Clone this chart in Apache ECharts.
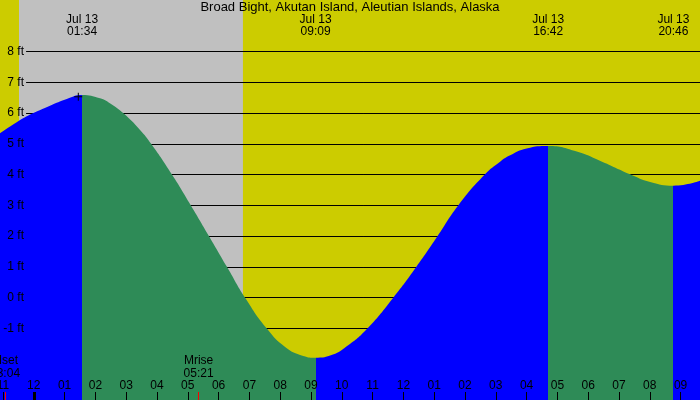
<!DOCTYPE html>
<html>
<head>
<meta charset="utf-8">
<script src="https://cdn.jsdelivr.net/npm/echarts@6/dist/echarts.min.js"></script>
<style>
html, body { margin: 0; padding: 0; background: #CCCC00; }
#echart { width: 700px; height: 400px; }
</style>
</head>
<body>
<div id="echart"></div>
<script>
var titleText = 'Broad Bight, Akutan Island, Aleutian Islands, Alaska';
var dateLabel = 'Jul 13';

// tide curve: hours from midnight Jul 13, height in ft
var tideHours = [-1.097, -0.555, -0.03, 0.526, 1.07, 1.567, 2.15, 2.47, 2.91, 3.45, 3.81, 4.48, 5.10, 5.69, 6.28, 6.86, 7.58, 8.16, 8.75, 9.15, 9.62, 10.16, 10.83, 11.67, 12.41, 13.10, 13.78, 14.65, 15.14, 15.45, 16.00, 16.70, 17.63, 18.38, 19.36, 20.01, 20.77, 21.63];
var tideFeet  = [5.34, 5.70, 5.99, 6.24, 6.46, 6.59, 6.48, 6.32, 5.99, 5.45, 5.00, 4.01, 3.00, 2.00, 0.99, 0.00, -1.02, -1.60, -1.89, -1.95, -1.88, -1.58, -1.00, 0.00, 0.99, 1.99, 3.00, 4.01, 4.42, 4.62, 4.85, 4.93, 4.75, 4.45, 4.01, 3.76, 3.64, 3.80];

// high / low times (first one is a high)
var extremeTimes = ['01:34', '09:09', '16:42', '20:46'];

var nightHours = [-0.48, 6.79];   // sunset (day before) .. sunrise
var moonNames = ['Mset', 'Mrise'];
var moonTimes = ['23:04', '05:21'];
var moonDays = [-1, 0];
var nowMark = [1.445, 6.53];

var hourTicks = [-1, 0, 1, 2, 3, 4, 5, 6, 7, 8, 9, 10, 11, 12, 13, 14, 15, 16, 17, 18, 19, 20, 21];
var feetLevels = [-1, 0, 1, 2, 3, 4, 5, 6, 7, 8];

var xMin = -1.097, xMax = 21.63;
var yMin = -3.323, yMax = 9.673;
var tickFt = 0.26;
var font = 'Liberation Sans';

function toHours(s, day) {
    var p = s.split(':');
    return +p[0] + p[1] / 60 + 24 * (day || 0);
}
function hourLabel(t) {
    var h = ((t % 12) + 12) % 12;
    if (h === 0) h = 12;
    return (h < 10 ? '0' : '') + h;
}

var tideData = tideHours.map(function (t, i) { return [t, tideFeet[i]]; });

// rising = blue, falling = green, switching at each extreme
var pieces = [];
var prev = -Infinity;
extremeTimes.forEach(function (s, i) {
    var t = toHours(s);
    pieces.push({ gte: prev, lt: t, color: i % 2 === 0 ? '#0000FF' : '#2E8B57' });
    prev = t;
});
pieces.push({ gte: prev, lt: Infinity, color: extremeTimes.length % 2 === 0 ? '#0000FF' : '#2E8B57' });

var levelLines = feetLevels.map(function (l) {
    return [{ coord: [-0.25, l] }, { coord: [xMax, l] }];
});

var moonLines = moonNames.map(function (n, i) {
    var t = toHours(moonTimes[i], moonDays[i]);
    return [{
        coord: [t, yMin],
        lineStyle: { color: '#FF0000', width: 1, type: 'solid' },
        label: { show: true, position: 'end', distance: 12, formatter: n + '\n' + moonTimes[i] }
    }, { coord: [t, yMin + tickFt] }];
});
moonLines.push([{
    coord: [0, yMin],
    lineStyle: { color: '#000', width: 3, type: 'solid' },
    label: { show: false }
}, { coord: [0, yMin + tickFt] }]);

var extremePoints = extremeTimes.map(function (s) {
    return { name: s, coord: [toHours(s), yMax], symbol: 'rect', symbolSize: 1, itemStyle: { color: 'rgba(0,0,0,0)' } };
});
extremePoints.push({
    name: 'now', coord: nowMark, symbol: 'path://M0,3.5H8V4.5H0Z M3.5,0H4.5V8H3.5Z', symbolSize: 8,
    itemStyle: { color: '#000' }, label: { show: false }
});

var chartDom = document.getElementById('echart');
var myChart = echarts.init(chartDom);

var option = {
    animation: false,
    backgroundColor: '#CCCC00',
    textStyle: { fontFamily: font },
    title: {
        text: titleText, left: 'center', top: 1, padding: 0,
        textStyle: { fontSize: 13, fontWeight: 'normal', color: '#000', fontFamily: font }
    },
    grid: { left: 0, right: 0, top: 0, bottom: 0, containLabel: false, outerBoundsMode: 'none' },
    xAxis: {
        type: 'value', min: xMin, max: xMax, z: 10,
        axisLine: { show: false, onZero: false },
        splitLine: { show: false },
        axisTick: { show: true, inside: true, length: 8, customValues: hourTicks, lineStyle: { color: '#000', width: 1 } },
        axisLabel: {
            inside: true, margin: 8, customValues: hourTicks, color: '#000', fontSize: 12, fontFamily: font,
            formatter: function (v) { return hourLabel(v); }
        }
    },
    yAxis: {
        type: 'value', min: yMin, max: yMax, z: 10,
        axisLine: { show: false, onZero: false },
        axisTick: { show: false },
        splitLine: { show: false },
        axisLabel: {
            inside: true, margin: 24, align: 'right', customValues: feetLevels, color: '#000', fontSize: 12, fontFamily: font,
            formatter: function (v) { return v + ' ft'; }
        }
    },
    visualMap: {
        type: 'piecewise', show: false, dimension: 0, seriesIndex: 2, pieces: pieces
    },
    series: [{
        name: 'night', type: 'line', data: [], z: 0, silent: true,
        markArea: {
            silent: true, z: 0,
            itemStyle: { color: '#C0C0C0', opacity: 1 },
            data: [[{ xAxis: nightHours[0] }, { xAxis: nightHours[1] }]]
        }
    }, {
        name: 'levels', type: 'line', data: [], z: 1, silent: true,
        markLine: {
            silent: true, z: 1, symbol: ['none', 'none'],
            lineStyle: { color: '#000', width: 1, type: 'solid' },
            label: { show: false },
            data: levelLines
        }
    }, {
        name: 'tide', type: 'line', data: tideData, z: 2, silent: true,
        smooth: 0.5, showSymbol: false,
        lineStyle: { width: 0 },
        areaStyle: { origin: 'start', opacity: 1 }
    }, {
        name: 'marks', type: 'line', data: [], z: 5, silent: true,
        markLine: {
            silent: true, z: 5, symbol: ['none', 'none'],
            label: { color: '#000', fontSize: 12, lineHeight: 13, fontFamily: font },
            data: moonLines
        },
        markPoint: {
            silent: true, z: 5,
            label: {
                show: true, position: 'bottom', distance: 13, color: '#000', fontSize: 12, lineHeight: 12, fontFamily: font,
                formatter: function (p) { return dateLabel + '\n' + p.name; }
            },
            data: extremePoints
        }
    }]
};

myChart.setOption(option);

window.addEventListener('resize', function () {
    myChart.resize();
});
</script>
</body>
</html>
